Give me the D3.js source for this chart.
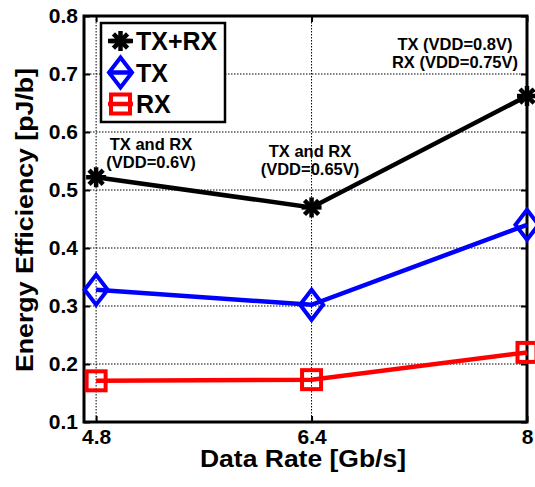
<!DOCTYPE html>
<html>
<head>
<meta charset="utf-8">
<script src="https://d3js.org/d3.v7.min.js"></script>
<style>
  body { margin: 0; background: #fff; }
  text { font-family: "Liberation Sans", Arial, sans-serif; font-weight: bold; }
</style>
</head>
<body>
<svg width="535" height="487"></svg>
<script>
// data
const rates = [4.8, 6.4, 8];
const txrx = [0.522, 0.47, 0.662];
const tx = [0.328, 0.302, 0.44];
const rx = [0.171, 0.173, 0.22];
const yTicks = [0.1, 0.2, 0.3, 0.4, 0.5, 0.6, 0.7, 0.8];
const seriesNames = ['TX+RX', 'TX', 'RX'];
const seriesColors = ['#000000', '#0000ff', '#ff0000'];
const seriesShapes = ['star', 'diamond', 'square'];

const margin = { left: 84, right: 8, top: 16, bottom: 65 };
const svg = d3.select('svg');
const width = +svg.attr('width');
const height = +svg.attr('height');
const innerWidth = width - margin.left - margin.right;
const innerHeight = height - margin.top - margin.bottom;

const g = svg.append('g')
  .attr('transform', `translate(${margin.left},${margin.top})`);

const xScale = d3.scaleLinear().domain([4.71, 8]).range([0, innerWidth]);
const yScale = d3.scaleLinear().domain([0.1, 0.8]).range([innerHeight, 0]);

// grid
g.append('g').selectAll('line').data(yTicks.slice(1, -1)).join('line')
  .attr('x1', 0).attr('x2', innerWidth)
  .attr('y1', d => yScale(d)).attr('y2', d => yScale(d))
  .attr('stroke', '#000').attr('stroke-width', 1).attr('stroke-dasharray', '1.5,1.5');
g.append('g').selectAll('line').data(rates.slice(0, -1)).join('line')
  .attr('x1', d => xScale(d)).attr('x2', d => xScale(d))
  .attr('y1', 0).attr('y2', innerHeight)
  .attr('stroke', '#000').attr('stroke-width', 1).attr('stroke-dasharray', '1.5,1.5');

// axes
const yAxis = d3.axisLeft(yScale).tickValues(yTicks).tickSize(-6).tickPadding(6)
  .tickFormat(d3.format('.1f'));
const yAxisG = g.append('g').call(yAxis);
const yAxisR = g.append('g').attr('transform', `translate(${innerWidth},0)`)
  .call(d3.axisRight(yScale).tickValues(yTicks).tickSize(-6).tickFormat(''));
const xAxis = d3.axisBottom(xScale).tickValues(rates).tickSize(-6).tickPadding(7)
  .tickFormat(d => d === 8 ? '8' : d3.format('.1f')(d));
const xAxisG = g.append('g').attr('transform', `translate(0,${innerHeight})`).call(xAxis);
const xAxisT = g.append('g')
  .call(d3.axisTop(xScale).tickValues(rates).tickSize(-6).tickFormat(''));

[yAxisG, yAxisR, xAxisG, xAxisT].forEach(a => {
  a.select('.domain').remove();
  a.selectAll('.tick line').attr('stroke', '#000').attr('stroke-width', 2);
  a.selectAll('.tick text').attr('fill', '#000').style('font-size', '21px');
});

g.append('rect')
  .attr('width', innerWidth).attr('height', innerHeight)
  .attr('fill', 'none').attr('stroke', '#000').attr('stroke-width', 3);

// axis labels
svg.append('text')
  .attr('x', 303).attr('y', 467)
  .attr('text-anchor', 'middle').style('font-size', '24px')
  .attr('textLength', 206).attr('lengthAdjust', 'spacingAndGlyphs')
  .text('Data Rate [Gb/s]');
svg.append('text')
  .attr('transform', 'translate(33,220) rotate(-90)')
  .attr('text-anchor', 'middle').style('font-size', '24px')
  .attr('textLength', 304).attr('lengthAdjust', 'spacingAndGlyphs')
  .text('Energy Efficiency [pJ/b]');

// markers
function drawMarker(sel, shape, color) {
  if (shape === 'star') {
    sel.append('circle').attr('r', 5).attr('fill', color);
    d3.range(4).map(i => i * Math.PI / 4).forEach(a => {
      sel.append('line')
        .attr('x1', -10 * Math.cos(a)).attr('y1', -10 * Math.sin(a))
        .attr('x2', 10 * Math.cos(a)).attr('y2', 10 * Math.sin(a))
        .attr('stroke', color).attr('stroke-width', 4.5);
    });
  } else if (shape === 'diamond') {
    sel.append('path').attr('d', 'M0,-15L11.5,0L0,15L-11.5,0Z')
      .attr('fill', 'none').attr('stroke', color).attr('stroke-width', 4);
  } else {
    sel.append('rect').attr('x', -9.5).attr('y', -9.5).attr('width', 19).attr('height', 19)
      .attr('fill', 'none').attr('stroke', color).attr('stroke-width', 4);
  }
}

const allSeries = [txrx, tx, rx];
const line = d3.line().x((d, i) => xScale(rates[i])).y(d => yScale(d));

allSeries.forEach((vals, k) => {
  g.append('path').datum(vals)
    .attr('fill', 'none').attr('stroke', seriesColors[k]).attr('stroke-width', 4.5)
    .attr('d', line);
  vals.forEach((v, i) => {
    const m = g.append('g').attr('transform', `translate(${xScale(rates[i])},${yScale(v)})`);
    drawMarker(m, seriesShapes[k], seriesColors[k]);
  });
});

// annotations
const notes = [
  { x: 151, y: 150, lines: ['TX and RX', '(VDD=0.6V)'] },
  { x: 310, y: 157, lines: ['TX and RX', '(VDD=0.65V)'] },
  { x: 455, y: 50, lines: ['TX (VDD=0.8V)', 'RX (VDD=0.75V)'] }
];
notes.forEach(n => {
  n.lines.forEach((t, i) => {
    svg.append('text')
      .attr('x', n.x).attr('y', n.y + i * 18)
      .attr('text-anchor', 'middle').style('font-size', '16.5px')
      .text(t);
  });
});

// legend
const legend = svg.append('g').attr('transform', 'translate(101,23)');
legend.append('rect').attr('width', 124).attr('height', 99)
  .attr('fill', '#fff').attr('stroke', '#000').attr('stroke-width', 2.5);
seriesNames.forEach((name, k) => {
  const yy = 18 + k * 31.5;
  legend.append('line').attr('x1', 7).attr('x2', 32).attr('y1', yy).attr('y2', yy)
    .attr('stroke', seriesColors[k]).attr('stroke-width', 4.5);
  drawMarker(legend.append('g').attr('transform', `translate(19.5,${yy})`), seriesShapes[k], seriesColors[k]);
  legend.append('text').attr('x', 35).attr('y', yy + 9)
    .style('font-size', '25px').text(name);
});
</script>
</body>
</html>
